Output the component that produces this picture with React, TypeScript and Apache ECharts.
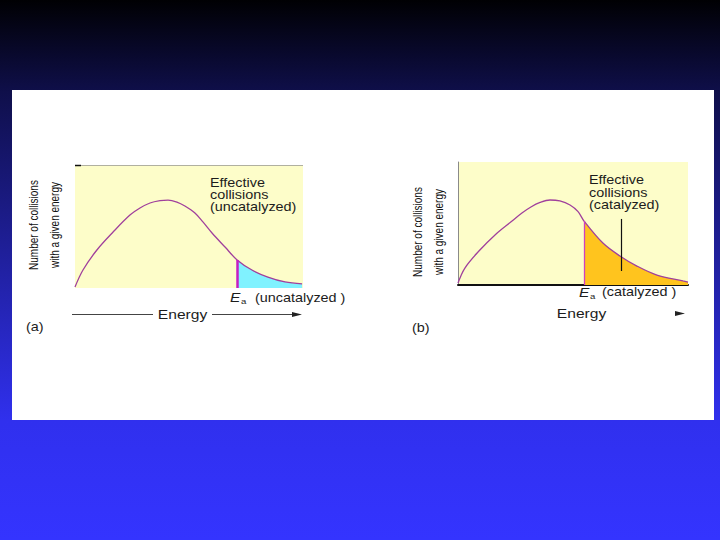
import React, { useEffect, useRef } from "react";
import * as echarts from "echarts";

// ---- data ----
// Panel (a): uncatalyzed
const energyA = [0, 3.5, 9.6, 16.7, 24.1, 28.5, 32.9, 37.3, 40.8, 44.7, 48.2, 52.6, 56.1, 60.1, 65.8, 71.1, 77.6, 84.6, 92.1, 99.6];
const countA = [0.8, 14.6, 30.9, 45.5, 59.3, 65.0, 69.1, 71.0, 71.5, 69.9, 66.7, 61.0, 53.7, 44.7, 33.3, 22.8, 14.6, 8.9, 4.9, 3.3];
const eaA = 71.1;

// Panel (b): catalyzed
const energyB = [0, 3.0, 9.1, 16.1, 23.5, 27.8, 31.7, 35.7, 40.0, 44.3, 48.7, 52.2, 54.8, 63.0, 70.4, 77.8, 86.5, 97.8, 100];
const countB = [1.6, 13.8, 27.6, 40.7, 52.0, 58.5, 63.4, 67.1, 69.1, 68.3, 65.0, 59.6, 52.0, 34.1, 23.6, 15.4, 8.1, 3.3, 2.4];
const eaB = 54.8;
const pointerB = [70.9, 11.4, 53.7]; // energy, from count, to count

// ---- texts ----
const yLabel = "Number of collisions\nwith a given energy";
const xLabel = "Energy";
const titleA = "Effective\ncollisions\n(uncatalyzed)";
const titleB = "Effective\ncollisions\n(catalyzed)";
const eaSuffixA = "(uncatalyzed )";
const eaSuffixB = "(catalyzed )";
const panelNames = ["(a)", "(b)"];

const FONT = '"Liberation Sans", Arial, Helvetica, sans-serif';
const INK = "#1c1c1c";
const CURVE = "#a0409c";

const pairs = (xs: number[], ys: number[]) => xs.map((x, i) => [x, ys[i]]);
const tail = (pts: number[][], ea: number) => pts.filter((p) => p[0] >= ea);
const countAt = (xs: number[], ys: number[], ea: number) => ys[xs.indexOf(ea)];

function txt(x: number, y: number, text: string, extra: any = {}, style: any = {}) {
  return {
    type: "text",
    x,
    y,
    scaleX: 1.2,
    silent: true,
    z: 10,
    ...extra,
    style: {
      text,
      fill: INK,
      fontFamily: FONT,
      fontSize: 12,
      align: "left",
      verticalAlign: "middle",
      ...style,
    },
  };
}

export default function App() {
  const ref = useRef<HTMLDivElement>(null);

  useEffect(() => {
    if (!ref.current) return;
    const chart = echarts.init(ref.current, undefined, { renderer: "svg" });

    const ptsA = pairs(energyA, countA);
    const ptsB = pairs(energyB, countB);

    const axisCommon = {
      type: "value",
      min: 0,
      max: 100,
      axisLabel: { show: false },
      axisTick: { show: false },
      splitLine: { show: false },
    };

    const option: any = {
      animation: false,
      backgroundColor: {
        type: "linear",
        x: 0,
        y: 0,
        x2: 0,
        y2: 1,
        colorStops: [
          { offset: 0, color: "#000003" },
          { offset: 0.17, color: "#0f0f4a" },
          { offset: 0.78, color: "#3030ee" },
          { offset: 1, color: "#3434ff" },
        ],
      },
      grid: [
        { left: 75, top: 165, width: 228, height: 123, show: true, backgroundColor: "#fdfdc9", borderWidth: 0 },
        { left: 458, top: 162, width: 230, height: 123, show: true, backgroundColor: "#fdfdc9", borderWidth: 0 },
      ],
      xAxis: [
        { ...axisCommon, gridIndex: 0, axisLine: { show: false } },
        { ...axisCommon, gridIndex: 1, axisLine: { show: true, lineStyle: { color: "#111", width: 2 } } },
      ],
      yAxis: [
        { ...axisCommon, gridIndex: 0, axisLine: { show: false } },
        { ...axisCommon, gridIndex: 1, axisLine: { show: true, lineStyle: { color: "#8a8a8a", width: 1 } } },
      ],
      series: [
        {
          name: "effective A",
          type: "line",
          xAxisIndex: 0,
          yAxisIndex: 0,
          data: tail(ptsA, eaA),
          smooth: 0.35,
          symbol: "none",
          lineStyle: { width: 0 },
          areaStyle: { color: "#80f2ff", opacity: 1 },
          z: 2,
          markLine: {
            silent: true,
            symbol: ["none", "none"],
            label: { show: false },
            lineStyle: { color: "#c41ec4", width: 2.5, type: "solid" },
            data: [[{ coord: [eaA, 0] }, { coord: [eaA, countAt(energyA, countA, eaA)] }]],
          },
        },
        {
          name: "collisions A",
          type: "line",
          xAxisIndex: 0,
          yAxisIndex: 0,
          data: ptsA,
          smooth: 0.35,
          symbol: "none",
          lineStyle: { color: CURVE, width: 1.3 },
          z: 4,
        },
        {
          name: "effective B",
          type: "line",
          xAxisIndex: 1,
          yAxisIndex: 1,
          data: tail(ptsB, eaB),
          smooth: 0.35,
          symbol: "none",
          lineStyle: { width: 0 },
          areaStyle: { color: "#ffc41e", opacity: 1 },
          z: 2,
          markLine: {
            silent: true,
            symbol: ["none", "none"],
            label: { show: false },
            lineStyle: { type: "solid" },
            data: [
              [
                { coord: [eaB, 0], lineStyle: { color: "#d040c0", width: 1.3, type: "solid" } },
                { coord: [eaB, countAt(energyB, countB, eaB)] },
              ],
              [
                { coord: [pointerB[0], pointerB[1]], lineStyle: { color: "#111", width: 1.2, type: "solid" } },
                { coord: [pointerB[0], pointerB[2]] },
              ],
            ],
          },
        },
        {
          name: "collisions B",
          type: "line",
          xAxisIndex: 1,
          yAxisIndex: 1,
          data: ptsB,
          smooth: 0.35,
          symbol: "none",
          lineStyle: { color: CURVE, width: 1.3 },
          z: 4,
        },
      ],
      graphic: [
        {
          type: "rect",
          z: -10,
          silent: true,
          shape: { x: 12, y: 90, width: 702, height: 330 },
          style: { fill: "#ffffff" },
        },
        // panel (a) top edge
        { type: "line", z: 10, silent: true, shape: { x1: 75, y1: 165.5, x2: 303, y2: 165.5 }, style: { stroke: "#b0b0a0", lineWidth: 1 } },
        { type: "line", z: 11, silent: true, shape: { x1: 75, y1: 165.5, x2: 81, y2: 165.5 }, style: { stroke: "#111", lineWidth: 1.5 } },
        // y labels
        txt(44, 225, yLabel, { rotation: Math.PI / 2, scaleX: 0.74 }, { fontSize: 13.5, lineHeight: 21, align: "center", fill: "#111" }),
        txt(428, 232, yLabel, { rotation: Math.PI / 2, scaleX: 0.74 }, { fontSize: 13.5, lineHeight: 21, align: "center", fill: "#111" }),
        // effective collisions titles
        txt(210, 177, titleA, {}, { verticalAlign: "top", lineHeight: 12 }),
        txt(589, 174, titleB, {}, { verticalAlign: "top", lineHeight: 12.5 }),
        // Ea labels
        txt(230, 297, "E", {}, { fontSize: 13, fontStyle: "italic" }),
        txt(241, 301, "a", {}, { fontSize: 8 }),
        txt(255, 298, eaSuffixA),
        txt(579, 292, "E", {}, { fontSize: 13, fontStyle: "italic" }),
        txt(590, 296, "a", {}, { fontSize: 8 }),
        txt(602, 292, eaSuffixB),
        // Energy axis titles
        txt(182.5, 314, xLabel, {}, { fontSize: 13, align: "center" }),
        txt(581.5, 313, xLabel, {}, { fontSize: 13, align: "center" }),
        { type: "line", z: 10, silent: true, shape: { x1: 72, y1: 314.5, x2: 153, y2: 314.5 }, style: { stroke: "#444", lineWidth: 1 } },
        { type: "line", z: 10, silent: true, shape: { x1: 212, y1: 314.5, x2: 294, y2: 314.5 }, style: { stroke: "#444", lineWidth: 1 } },
        { type: "polygon", z: 10, silent: true, shape: { points: [[292, 312], [302, 314.5], [292, 317]] }, style: { fill: "#222" } },
        { type: "polygon", z: 10, silent: true, shape: { points: [[675, 311], [685, 313.5], [675, 316]] }, style: { fill: "#222" } },
        // panel names
        txt(26, 327, panelNames[0]),
        txt(412, 328, panelNames[1]),
      ],
    };

    chart.setOption(option);
    return () => chart.dispose();
  }, []);

  return <div ref={ref} style={{ position: "fixed", left: 0, top: 0, width: 720, height: 540 }} />;
}
